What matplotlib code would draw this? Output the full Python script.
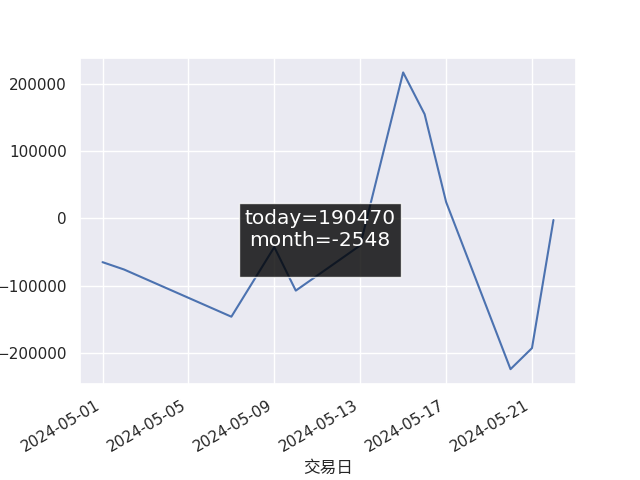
import pandas as pd
import matplotlib
matplotlib.use('Agg')
import matplotlib.pyplot as plt
import seaborn as sns

# values
dates = ['2024-05-01', '2024-05-02', '2024-05-07', '2024-05-09', '2024-05-10',
         '2024-05-13', '2024-05-15', '2024-05-16', '2024-05-17', '2024-05-20',
         '2024-05-21', '2024-05-22']
values = [-65200, -76100, -146300, -42800, -107500,
          -40300, 216900, 154800, 24300, -224300,
          -193000, -2548]
today_val = 190470
month_val = -2548
x_label = '交易日'

sns.set_theme(style='darkgrid')

df = pd.DataFrame({'date': pd.to_datetime(dates), 'value': values})

fig, ax = plt.subplots(figsize=(6.4, 4.8), dpi=100)
ax.plot(df['date'], df['value'], color='#4c72b0', linewidth=1.5)
ax.set_xlabel(x_label, family=['Noto Sans CJK SC', 'DejaVu Sans'])
fig.autofmt_xdate()

# summary box in the middle of the figure
fig.text(0.5, 0.5, f'today={today_val}\nmonth={month_val}\n',
         ha='center', va='center', fontsize=14.5, color='white',
         bbox=dict(facecolor='black', alpha=0.8))

plt.savefig('out.png', dpi=100)
